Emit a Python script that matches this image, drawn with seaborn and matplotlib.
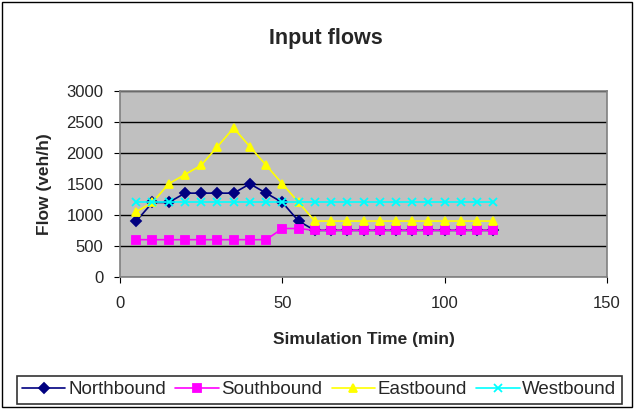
import pandas as pd
import matplotlib.pyplot as plt
import seaborn as sns
from matplotlib.patches import Rectangle

# Simulation time (min)
time_min = [5, 10, 15, 20, 25, 30, 35, 40, 45, 50, 55, 60, 65, 70, 75, 80,
            85, 90, 95, 100, 105, 110, 115]

northbound = [900, 1200, 1200, 1350, 1350, 1350, 1350, 1500, 1350, 1200, 900,
              750, 750, 750, 750, 750, 750, 750, 750, 750, 750, 750, 750]
southbound = [600, 600, 600, 600, 600, 600, 600, 600, 600, 780, 780,
              750, 750, 750, 750, 750, 750, 750, 750, 750, 750, 750, 750]
eastbound = [1050, 1200, 1500, 1650, 1800, 2100, 2400, 2100, 1800, 1500, 1200,
             900, 900, 900, 900, 900, 900, 900, 900, 900, 900, 900, 900]
westbound = [1200] * 23

series_names = ['Northbound', 'Southbound', 'Eastbound', 'Westbound']
series_values = [northbound, southbound, eastbound, westbound]

sns.set_style("white")
plt.rcParams['font.family'] = ['Liberation Sans', 'DejaVu Sans']

colors = {'Northbound': '#000080', 'Southbound': '#FF00FF',
          'Eastbound': '#FFFF00', 'Westbound': '#00FFFF'}
markers = {'Northbound': 'D', 'Southbound': 's', 'Eastbound': '^', 'Westbound': 'x'}
msizes = {'Northbound': 6, 'Southbound': 7, 'Eastbound': 8, 'Westbound': 7}

fig = plt.figure(figsize=(6.35, 4.09), dpi=100)
ax = fig.add_axes([0.189, 0.323, 0.767, 0.455])
ax.set_facecolor('#C0C0C0')

# one lineplot call per direction (filled and line-art markers can't share a style map)
for name, vals in zip(series_names, series_values):
    df = pd.DataFrame({'time': time_min, 'flow': vals})
    sns.lineplot(data=df, x='time', y='flow', color=colors[name], marker=markers[name],
                 markersize=msizes[name], markeredgecolor=colors[name],
                 markeredgewidth=1.3, linewidth=1.2, label=name, ax=ax)

ax.set_xlim(0, 150)
ax.set_ylim(0, 3000)
ax.set_xticks(range(0, 151, 50))
ax.set_yticks(range(0, 3001, 500))
ax.yaxis.grid(True, color='black', linewidth=1)
ax.set_axisbelow(True)
ax.tick_params(axis='both', labelsize=12, direction='out', length=4,
               left=True, bottom=True, color='black')
ax.tick_params(axis='x', pad=10)
ax.tick_params(axis='y', pad=8)
for side in ['top', 'right', 'left', 'bottom']:
    ax.spines[side].set_color('#808080')
    ax.spines[side].set_linewidth(1.2)

# title is centred on the whole chart, not the plot area
ax.set_title('Input flows', fontsize=15.5, fontweight='bold', pad=34, x=0.423)
ax.set_xlabel('Simulation Time (min)', fontsize=12.5, fontweight='bold', labelpad=15)
ax.set_ylabel('Flow (veh/h)', fontsize=12.5, fontweight='bold', labelpad=10)

handles, labels = ax.get_legend_handles_labels()
for h in handles:
    h.set_markersize(5.5)
ax.legend(handles, labels, loc='center', bbox_to_anchor=(0.503, 0.047),
          bbox_transform=fig.transFigure, ncol=4, frameon=True, fancybox=False,
          edgecolor='black', fontsize=13.5, handlelength=2.3, handletextpad=0.15,
          columnspacing=0.5, borderpad=0.3, borderaxespad=0)
ax.get_legend().get_frame().set_linewidth(1.2)

# Outer chart border
fig.patches.append(Rectangle((0.003, 0.004), 0.992, 0.992, transform=fig.transFigure,
                             fill=False, edgecolor='black', linewidth=1))

fig.savefig('out.png', dpi=100)
